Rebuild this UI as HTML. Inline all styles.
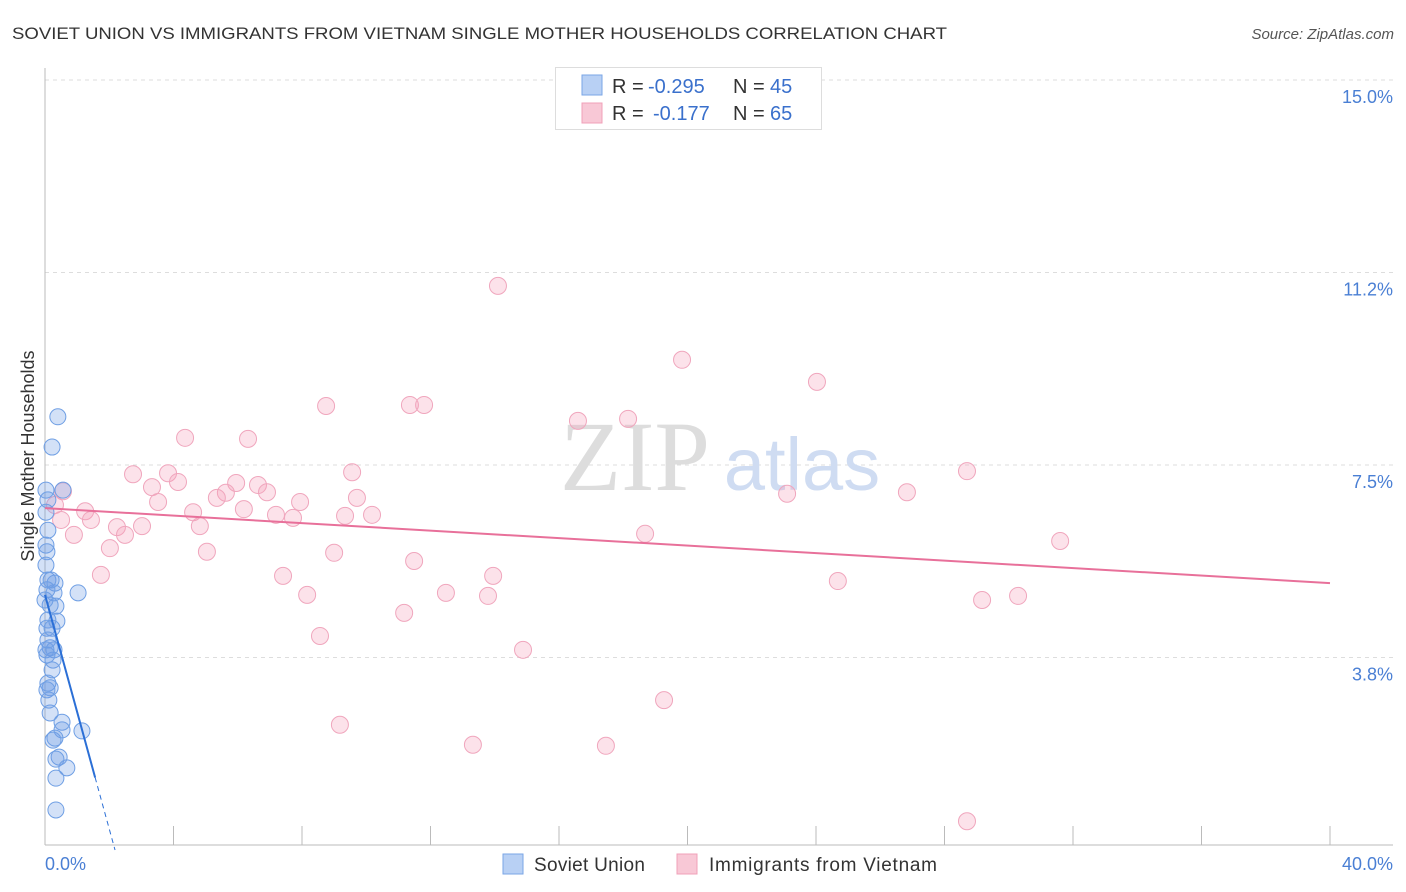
<!DOCTYPE html>
<html><head><meta charset="utf-8"><style>
body{margin:0;background:#fff;font-family:"Liberation Sans",sans-serif}
svg{display:block}
</style></head><body>
<svg id="chart" width="1406" height="892" xmlns="http://www.w3.org/2000/svg">
<text x="12" y="39" font-size="17" fill="#333" textLength="935" lengthAdjust="spacingAndGlyphs">SOVIET UNION VS IMMIGRANTS FROM VIETNAM SINGLE MOTHER HOUSEHOLDS CORRELATION CHART</text>
<text x="1394" y="39" font-size="15" fill="#555" font-style="italic" text-anchor="end">Source: ZipAtlas.com</text>
<g id="grid"></g>
<text x="635" y="490" font-size="100" fill="#ddd" font-family="Liberation Serif,serif" text-anchor="middle">ZIP</text>
<text x="802" y="490" font-size="74" fill="#cfdcf2" text-anchor="middle">atlas</text>
<g id="axes"></g>
<g id="pink"></g>
<g id="blue"></g>
<g id="lines"></g>
<text x="34" y="456" font-size="18" fill="#333" text-anchor="middle" transform="rotate(-90 34 456)">Single Mother Households</text>
<text x="45" y="870" font-size="18" fill="#4a7fd4">0.0%</text>
<text x="1393" y="870" font-size="18" fill="#4a7fd4" text-anchor="end">40.0%</text>
<g>
<rect x="555.5" y="67.5" width="266" height="62" fill="#fff" stroke="#ddd"/>
<rect x="582" y="75" width="20" height="20" fill="#b8d0f4" stroke="#7aa6e6"/>
<rect x="582" y="103" width="20" height="20" fill="#f8c8d6" stroke="#f0a0b8"/>
<text x="612" y="93" font-size="20" fill="#333">R = <tspan x="648" fill="#3a70cc">-0.295</tspan><tspan x="733">N = </tspan><tspan x="770" fill="#3a70cc">45</tspan></text>
<text x="612" y="120" font-size="20" fill="#333">R = <tspan x="653" fill="#3a70cc">-0.177</tspan><tspan x="733">N = </tspan><tspan x="770" fill="#3a70cc">65</tspan></text>
</g>
<g>
<rect x="503" y="854" width="20" height="20" fill="#b8d0f4" stroke="#7aa6e6"/>
<text x="534" y="871" font-size="19" fill="#333" textLength="111">Soviet Union</text>
<rect x="677" y="854" width="20" height="20" fill="#f8c8d6" stroke="#f0a0b8"/>
<text x="709" y="871" font-size="19" fill="#333" textLength="228">Immigrants from Vietnam</text>
</g>
</svg>
<script>
const yTicks=[3.75,7.5,11.25,15];
const yTickLabels=["3.8%","7.5%","11.2%","15.0%"];
const xTicks=[0,4,8,12,16,20,24,28,32,36,40];
const blueX=[0.40,0.22,0.56,0.03,0.09,0.03,0.09,0.03,0.06,0.03,0.09,0.31,0.06,0.28,1.03,0.16,0.34,0.09,0.37,0.06,0.22,0.16,0.28,0.25,0.22,0.09,0.16,0.06,0.16,0.53,0.53,1.15,0.31,0.25,0.44,0.34,0.68,0.34,0.34,0.00,0.03,0.09,0.06,0.12,0.19];
const blueY=[8.44,7.85,7.01,7.01,6.82,6.58,6.23,5.94,5.81,5.55,5.26,5.20,5.07,5.01,5.01,4.77,4.75,4.48,4.46,4.32,4.32,3.94,3.90,3.70,3.51,3.25,3.16,3.12,2.67,2.49,2.34,2.32,2.18,2.14,1.81,1.77,1.60,1.40,0.78,4.87,3.90,4.09,3.80,2.92,5.26];
const pinkX=[14.10,19.83,24.03,8.75,11.36,11.80,16.59,18.15,4.36,6.32,2.74,3.83,9.56,28.70,4.14,5.95,6.63,3.33,0.56,6.91,26.83,23.10,5.63,5.35,3.52,7.94,9.71,0.31,1.25,4.61,6.19,10.18,9.34,7.19,7.72,0.50,1.43,2.24,3.02,4.82,0.90,2.49,18.68,31.60,2.02,5.04,9.00,11.49,1.74,7.41,13.95,24.68,8.16,12.48,13.79,29.17,30.29,11.18,8.56,14.88,19.27,9.18,13.32,17.46,28.70];
const pinkY=[10.99,9.55,9.12,8.65,8.67,8.67,8.36,8.40,8.03,8.01,7.32,7.34,7.36,7.38,7.17,7.15,7.11,7.07,6.99,6.97,6.97,6.94,6.96,6.86,6.78,6.78,6.86,6.72,6.60,6.58,6.64,6.53,6.51,6.53,6.47,6.43,6.43,6.29,6.31,6.31,6.14,6.14,6.16,6.02,5.88,5.81,5.79,5.63,5.36,5.34,5.34,5.24,4.97,5.01,4.95,4.87,4.95,4.62,4.17,3.90,2.92,2.44,2.05,2.03,0.56];
const blueTrend=[4.97,-2.28];
const pinkTrend=[6.66,5.20];
const NS="http://www.w3.org/2000/svg";
const X=v=>45+v*32.125, Y=v=>850-v*51.33;
function mk(t,a,p){const e=document.createElementNS(NS,t);for(const k in a)e.setAttribute(k,a[k]);p.appendChild(e);return e;}
const grid=document.getElementById('grid'),axes=document.getElementById('axes');
yTicks.forEach((t,i)=>{
 const l=mk('line',{x1:45,x2:1393,y1:Y(t),y2:Y(t),stroke:'#ddd','stroke-dasharray':'4 4'},grid);
 
 
 const tx=mk('text',{x:1393,y:Y(t)+23,'font-size':18,fill:'#4a7fd4','text-anchor':'end'},axes);
 tx.textContent=yTickLabels[i];
 
 
});
const ax=mk('line',{x1:45,x2:45,y1:68,y2:845,stroke:'#bbb'},axes);


const bx=mk('line',{x1:45,x2:1393,y1:845,y2:845,stroke:'#bbb'},axes);


xTicks.forEach(t=>{
 const l=mk('line',{x1:X(t),x2:X(t),y1:826,y2:845,stroke:'#bbb'},axes);
 
 
});
const pg=document.getElementById('pink');
pinkX.forEach((v,i)=>{
 const c=mk('circle',{cx:X(v),cy:Y(pinkY[i]),r:8.5,fill:'rgba(244,160,185,0.3)',stroke:'#f0a6bd','stroke-width':1},pg);
 
 
});
const bg=document.getElementById('blue');
blueX.forEach((v,i)=>{
 const c=mk('circle',{cx:X(v),cy:Y(blueY[i]),r:8,fill:'rgba(110,155,230,0.3)',stroke:'#6f9fe4','stroke-width':1},bg);
 
 
});
const lg=document.getElementById('lines');
const pl=mk('line',{x1:X(0),y1:Y(pinkTrend[0]),x2:X(40),y2:Y(pinkTrend[1]),stroke:'#e8709a','stroke-width':2},lg);


const bEnd=1.56, bZero=-blueTrend[0]/blueTrend[1];
const bl=mk('line',{x1:X(0),y1:Y(blueTrend[0]),x2:X(bEnd),y2:Y(blueTrend[0]+blueTrend[1]*bEnd),stroke:'#2b6fd6','stroke-width':2},lg);


const bd=mk('line',{x1:X(bEnd),y1:Y(blueTrend[0]+blueTrend[1]*bEnd),x2:X(bZero),y2:Y(0),stroke:'#2b6fd6','stroke-width':1,'stroke-dasharray':'5 4'},lg);


</script>
</body></html>
